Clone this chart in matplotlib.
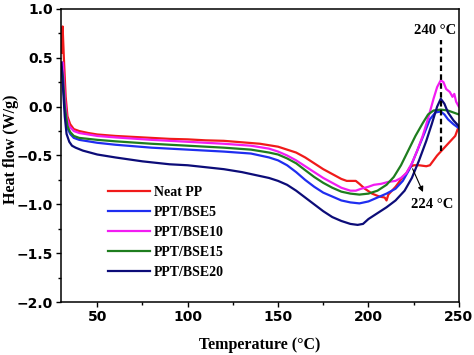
import matplotlib
matplotlib.use("Agg")
import matplotlib.pyplot as plt

# values
t_pp = [30.2, 30.8, 31.5, 32.5, 33.5, 35, 37, 40, 45, 50, 60, 70, 80, 90, 100, 110, 120, 130,
        140, 150, 155, 160, 165, 170, 175, 180, 185, 188, 191, 193, 195, 198, 202, 206, 209,
        210, 211, 213, 215, 217, 219, 221, 223, 225, 228, 232, 234, 236, 238, 240, 243, 246,
        248, 250]
hf_pp = [0.55, 0.82, 0.5, 0.1, -0.1, -0.18, -0.23, -0.25, -0.27, -0.285, -0.3, -0.31, -0.32,
         -0.33, -0.335, -0.345, -0.35, -0.365, -0.38, -0.41, -0.44, -0.47, -0.52, -0.58, -0.64,
         -0.69, -0.74, -0.76, -0.76, -0.76, -0.79, -0.84, -0.89, -0.92, -0.93, -0.96, -0.9,
         -0.86, -0.82, -0.77, -0.72, -0.68, -0.62, -0.6, -0.6, -0.61, -0.6, -0.55, -0.5, -0.46,
         -0.4, -0.34, -0.3, -0.2]

t_5 = [30.3, 31, 32, 33.5, 35, 37, 40, 50, 60, 80, 100, 120, 135, 145, 150, 155, 160, 165, 170,
       175, 180, 185, 190, 195, 200, 205, 210, 215, 219, 223, 227, 231, 234, 237, 240, 242, 244,
       247, 250]
hf_5 = [0.45, 0.3, 0.0, -0.22, -0.28, -0.32, -0.34, -0.37, -0.39, -0.42, -0.44, -0.46, -0.48,
        -0.52, -0.55, -0.6, -0.67, -0.75, -0.82, -0.88, -0.92, -0.96, -0.98, -0.99, -0.97,
        -0.93, -0.89, -0.84, -0.76, -0.63, -0.45, -0.27, -0.13, -0.06, -0.05, -0.08, -0.13,
        -0.18, -0.22]

t_10 = [30.3, 31, 32, 33, 34.5, 37, 40, 50, 60, 80, 100, 120, 135, 145, 150, 155, 160, 165, 170,
        175, 180, 185, 190, 193, 196, 200, 203, 207, 211, 215, 218, 221, 224, 227, 230, 233, 236,
        238, 240, 241.5, 243, 245, 246.5, 247.5, 248.5, 250]
hf_10 = [0.45, 0.45, 0.1, -0.1, -0.2, -0.25, -0.27, -0.3, -0.315, -0.34, -0.36, -0.38, -0.4,
         -0.43, -0.46, -0.5, -0.55, -0.61, -0.67, -0.73, -0.78, -0.83, -0.86, -0.86, -0.84,
         -0.82, -0.8, -0.79, -0.77, -0.76, -0.73, -0.68, -0.58, -0.45, -0.3, -0.12, 0.08, 0.2,
         0.27, 0.25, 0.18, 0.15, 0.1, 0.13, 0.05, 0.0]

t_15 = [30.3, 31, 32, 33.5, 35, 37, 40, 50, 60, 80, 100, 120, 135, 145, 150, 155, 160, 165, 170,
        175, 180, 185, 190, 195, 200, 205, 210, 214, 218, 222, 226, 230, 233, 236, 240, 244, 247,
        250]
hf_15 = [0.4, 0.3, 0.0, -0.2, -0.26, -0.3, -0.32, -0.34, -0.355, -0.38, -0.4, -0.42, -0.44,
         -0.47, -0.49, -0.53, -0.58, -0.65, -0.72, -0.78, -0.83, -0.87, -0.89, -0.9, -0.89,
         -0.86, -0.8, -0.72, -0.6, -0.45, -0.3, -0.17, -0.08, -0.04, -0.03, -0.04, -0.06, -0.08]

t_20 = [30.2, 31, 32, 33, 34.5, 36, 38, 42, 50, 60, 75, 90, 100, 110, 120, 130, 140, 145, 150,
        155, 160, 165, 170, 175, 180, 185, 190, 194, 197, 200, 205, 210, 215, 220, 224, 228, 232,
        235, 238, 240, 242, 244, 247, 250]
hf_20 = [0.45, 0.2, -0.1, -0.28, -0.36, -0.4, -0.42, -0.45, -0.49, -0.52, -0.56, -0.59, -0.6,
         -0.62, -0.64, -0.67, -0.71, -0.73, -0.76, -0.8, -0.86, -0.93, -1.0, -1.07, -1.13,
         -1.17, -1.2, -1.21, -1.2, -1.15, -1.09, -1.03, -0.96, -0.86, -0.73, -0.55, -0.35,
         -0.18, 0.0, 0.08, 0.03, -0.06, -0.14, -0.2]

series = [
    ("Neat PP", t_pp, hf_pp, "#f01a1a"),
    ("PPT/BSE5", t_5, hf_5, "#1f2ef0"),
    ("PPT/BSE10", t_10, hf_10, "#f21cf2"),
    ("PPT/BSE15", t_15, hf_15, "#1e7d1e"),
    ("PPT/BSE20", t_20, hf_20, "#0c0c78"),
]

serif = ["Liberation Serif", "DejaVu Serif"]

fig = plt.figure(figsize=(4.74, 3.55), dpi=100)
ax = fig.add_axes([0.129, 0.149, 0.839, 0.826])

for name, t, hf, c in series:
    ax.plot(t, hf, color=c, lw=1.6, label=name)

# 240 °C marker and 224 °C arrow
ax.plot([240, 240], [-0.45, 0.68], color="black", lw=1.6, ls=(0, (2.5, 1.5)))
ax.text(236.7, 0.78, "240 °C", ha="center", va="center", fontsize=10.5,
        fontweight="bold", family=serif)
ax.annotate("", xy=(230.8, -0.9), xytext=(223.8, -0.61),
            arrowprops=dict(arrowstyle="-|>", color="black", lw=0.8, mutation_scale=8))
ax.text(235, -1.0, "224 °C", ha="center", va="center", fontsize=10.5,
        fontweight="bold", family=serif)

ax.set_xlim(30, 250)
ax.set_ylim(-2.0, 1.0)
ax.set_xticks([50, 100, 150, 200, 250])
ax.set_xticks([75, 125, 175, 225], minor=True)
ax.set_yticks([-2.0, -1.5, -1.0, -0.5, 0.0, 0.5, 1.0])
ax.set_yticks([-1.75, -1.25, -0.75, -0.25, 0.25, 0.75], minor=True)
ax.tick_params(which="major", length=3.5, width=1, labelsize=10, pad=2.5)
ax.tick_params(which="minor", length=2.2, width=1)
for lab in ax.get_xticklabels() + ax.get_yticklabels():
    lab.set_fontweight("bold")
for sp in ax.spines.values():
    sp.set_linewidth(1.1)

ax.set_xlabel("Temperature (°C)", fontsize=11.5, fontweight="bold", family=serif, labelpad=9)
ax.set_ylabel("Heat flow (W/g)", fontsize=11.5, fontweight="bold", family=serif)
ax.yaxis.set_label_coords(-0.106, 0.522)

ax.legend(loc="center left", bbox_to_anchor=(0.1, 0.237), frameon=False,
          prop={"family": serif, "weight": "bold", "size": 10}, handlelength=3.0,
          handletextpad=0.3, labelspacing=0.5, borderpad=0)

fig.savefig("out.png", dpi=100)
